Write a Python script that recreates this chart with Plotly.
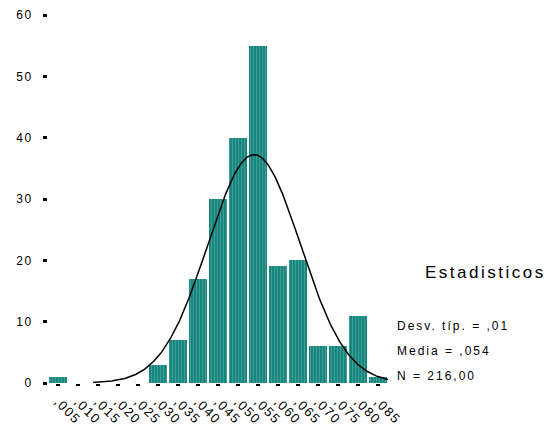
import numpy as np
import plotly.graph_objects as go

# Histogram bins (midpoints) and counts
bin_mid = [0.005, 0.010, 0.015, 0.020, 0.025, 0.030, 0.035, 0.040, 0.045,
           0.050, 0.055, 0.060, 0.065, 0.070, 0.075, 0.080, 0.085]
counts = [1, 0, 0, 0, 0, 3, 7, 17, 30, 40, 55, 19, 20, 6, 6, 11, 1]
tick_labels = [",005", ",010", ",015", ",020", ",025", ",030", ",035", ",040",
               ",045", ",050", ",055", ",060", ",065", ",070", ",075", ",080", ",085"]
y_ticks = [0, 10, 20, 30, 40, 50, 60]
stats_title = "Estadisticos"
stats = ["Desv. típ. = ,01", "Media = ,054", "N = 216,00"]

bin_width = 0.005
n = sum(counts)
mean = sum(m * c for m, c in zip(bin_mid, counts)) / n
sd = (sum(c * (m - mean) ** 2 for m, c in zip(bin_mid, counts)) / (n - 1)) ** 0.5

# Fitted normal curve, scaled to counts per bin
curve_x = np.linspace(mean - 3.48 * sd, 0.0875, 300)
curve_y = n * bin_width * np.exp(-0.5 * ((curve_x - mean) / sd) ** 2) / (sd * np.sqrt(2 * np.pi))


def spaced(text, px):
    return f'<span style="letter-spacing:{px}px">{text}</span>'


fig = go.Figure()
fig.add_trace(go.Bar(
    x=bin_mid, y=counts, width=bin_width * 0.9,
    marker=dict(color="#16877f",
                line=dict(width=0),
                pattern=dict(shape="|", size=3, solidity=0.34,
                             fgcolor="#6cb3ad", fillmode="overlay")),
    hoverinfo="skip",
))
fig.add_trace(go.Scatter(
    x=curve_x, y=curve_y, mode="lines",
    line=dict(color="black", width=1.5), hoverinfo="skip",
))

font = "Liberation Sans, Arial, sans-serif"
fig.update_layout(
    width=557, height=430,
    margin=dict(l=48, r=169, t=15, b=47),
    plot_bgcolor="white", paper_bgcolor="white",
    showlegend=False, bargap=0,
    font=dict(family=font, color="black"),
    xaxis=dict(range=[0.0025, 0.0875], tickmode="array", tickvals=bin_mid,
               ticktext=[spaced(t, 1.5) for t in tick_labels], tickangle=45,
               ticks="outside", ticklen=2, tickwidth=4, tickcolor="black",
               ticklabelstandoff=3, automargin=False,
               showgrid=False, zeroline=False, showline=False,
               tickfont=dict(size=13, family=font)),
    yaxis=dict(range=[0, 60], tickmode="array", tickvals=y_ticks,
               ticktext=[spaced(str(v), 1.5) for v in y_ticks],
               ticks="outside", ticklen=4, tickwidth=3, tickcolor="black",
               ticklabelstandoff=8, automargin=False,
               showgrid=False, zeroline=False, showline=False,
               tickfont=dict(size=12, family=font)),
)

fig.add_annotation(text=spaced(stats_title, 2.5), xref="paper", yref="paper",
                   x=1.47, y=0.30, xanchor="right", yanchor="middle",
                   showarrow=False, font=dict(size=17, family=font))
for i, s in enumerate(stats):
    fig.add_annotation(text=spaced(s, 2), xref="paper", yref="paper",
                       x=1.02, y=0.154 - i * 0.068, xanchor="left",
                       yanchor="middle", showarrow=False,
                       font=dict(size=12, family=font))

fig.write_html("out.html")
